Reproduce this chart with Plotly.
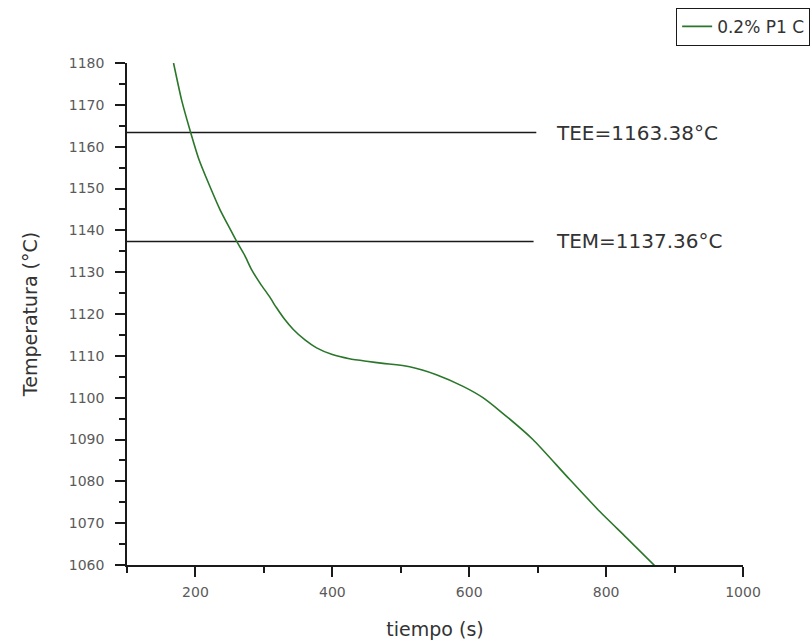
import plotly.graph_objects as go

# Data
tiempo = [168, 180, 193, 205, 219, 236, 250, 260, 272, 282, 295, 308, 318, 330, 343, 360, 377, 400,
          425, 450, 474, 513, 552, 591, 620, 645, 693, 742, 790, 830, 873]
temperatura = [1180, 1171, 1163.4, 1157, 1151.3, 1144.9, 1140.5, 1137.4, 1134, 1130.6, 1127.2, 1124.2,
               1121.6, 1118.8, 1116.3, 1113.8, 1111.9, 1110.3, 1109.3, 1108.7, 1108.2, 1107.4, 1105.5,
               1102.7, 1100, 1096.8, 1090, 1081.3, 1072.9, 1066.5, 1059.5]
serie_nombre = "0.2% P1 C"

tee_valor = 1163.38
tem_valor = 1137.36
tee_x = [100, 698]
tem_x = [100, 694]
tee_label = "TEE=1163.38°C"
tem_label = "TEM=1137.36°C"

x_ticks = [200, 400, 600, 800, 1000]
y_ticks = [1060, 1070, 1080, 1090, 1100, 1110, 1120, 1130, 1140, 1150, 1160, 1170, 1180]

FONT = "DejaVu Sans"

fig = go.Figure()
fig.add_trace(go.Scatter(x=tee_x, y=[tee_valor] * len(tee_x), mode="lines",
                         line=dict(color="#1a1a1a", width=1.5), showlegend=False, hoverinfo="skip"))
fig.add_trace(go.Scatter(x=tem_x, y=[tem_valor] * len(tem_x), mode="lines",
                         line=dict(color="#1a1a1a", width=1.5), showlegend=False, hoverinfo="skip"))
fig.add_trace(go.Scatter(x=tiempo, y=temperatura, mode="lines", name=serie_nombre,
                         line=dict(color="#2a762a", width=1.6, shape="spline", smoothing=0.6)))

fig.add_annotation(x=724, y=tee_valor, text=tee_label, showarrow=False, xanchor="left",
                   font=dict(family=FONT, size=20, color="#333333"))
fig.add_annotation(x=724, y=tem_valor, text=tem_label, showarrow=False, xanchor="left",
                   font=dict(family=FONT, size=20, color="#333333"))

axis_common = dict(showgrid=False, zeroline=False, showline=True, linecolor="#1a1a1a", linewidth=1.5,
                   ticks="outside", ticklen=10, tickwidth=1.5, tickcolor="#1a1a1a",
                   tickfont=dict(family=FONT, size=14, color="#5a5a5a"))

fig.update_layout(
    width=812, height=644,
    margin=dict(l=127, r=69, t=63, b=79, autoexpand=False),
    paper_bgcolor="white", plot_bgcolor="white",
    font=dict(family=FONT, color="#333333"),
    showlegend=True,
    legend=dict(x=1.109, y=1.11, xanchor="right", yanchor="top", bordercolor="#1a1a1a", borderwidth=1,
                bgcolor="white", font=dict(family=FONT, size=17, color="#333333"), tracegroupgap=0,
                itemwidth=30),
    xaxis=dict(range=[100, 1000], tickvals=x_ticks, ticklabelstandoff=3,
               minor=dict(dtick=100, tick0=100, ticks="outside", ticklen=6, tickcolor="#1a1a1a", tickwidth=1.5),
               title=dict(text="tiempo (s)", font=dict(family=FONT, size=19, color="#333333"), standoff=24),
               **axis_common),
    yaxis=dict(range=[1060, 1180], tickvals=y_ticks, ticklabelstandoff=8,
               minor=dict(dtick=5, tick0=1060, ticks="outside", ticklen=6, tickcolor="#1a1a1a", tickwidth=1.5),
               title=dict(text="Temperatura (°C)", font=dict(family=FONT, size=19, color="#333333"), standoff=26),
               **axis_common),
)

fig.write_html("out.html")
